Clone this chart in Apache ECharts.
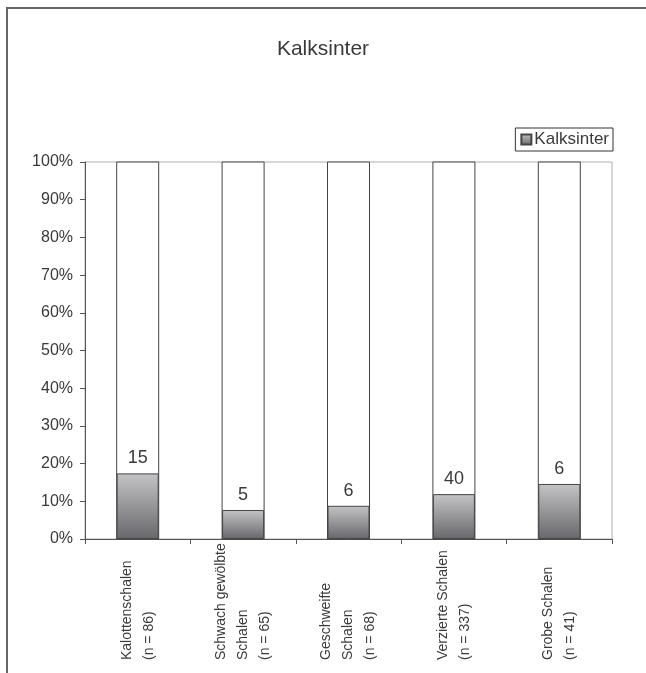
<!DOCTYPE html>
<html>
<head>
<meta charset="utf-8">
<script src="https://cdn.jsdelivr.net/npm/echarts@6/dist/echarts.min.js"></script>
<style>
  html, body { margin: 0; padding: 0; background: #fff; }
  #wrap { position: relative; width: 646px; height: 673px; }
  #chart { width: 646px; height: 673px; }
  #frame {
    position: absolute; left: 6px; top: 7px; width: 640px; height: 666px;
    border-left: 2px solid #666; border-top: 2px solid #666;
    pointer-events: none; box-sizing: border-box;
  }
</style>
</head>
<body>
<div id="wrap">
  <div id="chart"></div>
  <div id="frame"></div>
</div>
<script>
// categories (x axis labels)
const categories = [
  'Kalottenschalen\n(n = 86)',
  'Schwach gewölbte\nSchalen\n(n = 65)',
  'Geschweifte\nSchalen\n(n = 68)',
  'Verzierte Schalen\n(n = 337)',
  'Grobe Schalen\n(n = 41)'
];
// share with Kalksinter, in percent
const kalksinterPct = [17.4, 7.7, 8.8, 11.9, 14.6];
// counts shown above the bars
const kalksinterCount = [15, 5, 6, 40, 6];

const font = 'Liberation Sans, Arial, sans-serif';
const textColor = '#3a3a3a';

const chart = echarts.init(document.getElementById('chart'));

chart.setOption({
  animation: false,
  backgroundColor: '#fff',
  textStyle: { fontFamily: font, color: textColor },
  title: {
    text: 'Kalksinter',
    left: 'center',
    top: 34,
    textStyle: { fontFamily: font, fontSize: 21, fontWeight: 'normal', color: textColor }
  },
  legend: {
    data: [{ name: 'Kalksinter', icon: 'rect' }],
    right: 33,
    top: 128,
    itemWidth: 10,
    itemHeight: 10,
    itemGap: 4,
    padding: [3, 4, 3, 5],
    borderColor: '#333',
    borderWidth: 1,
    textStyle: { fontFamily: font, fontSize: 17, color: textColor, padding: [0, 0, 0, -2] }
  },
  grid: {
    left: 85,
    right: 34,
    top: 162,
    bottom: 134,
    show: true,
    borderColor: '#b0b0b0',
    borderWidth: 1,
    backgroundColor: 'transparent'
  },
  xAxis: {
    type: 'category',
    data: categories,
    axisLine: { lineStyle: { color: '#555', width: 1 } },
    axisTick: { show: true, length: 5, lineStyle: { color: '#555' } },
    axisLabel: {
      interval: 0,
      rotate: 90,
      align: 'left',
      verticalAlign: 'middle',
      margin: 121,
      lineHeight: 22,
      fontFamily: font,
      fontSize: 14,
      color: textColor
    }
  },
  yAxis: {
    type: 'value',
    min: 0,
    max: 100,
    interval: 10,
    splitLine: { show: false },
    axisLine: { show: true, lineStyle: { color: '#555', width: 1 } },
    axisTick: { show: true, length: 5, lineStyle: { color: '#555' } },
    axisLabel: {
      formatter: '{value}%',
      margin: 12,
      fontFamily: font,
      fontSize: 16,
      color: textColor
    }
  },
  series: [{
    name: 'Kalksinter',
    type: 'bar',
    data: kalksinterPct,
    barWidth: 42,
    showBackground: true,
    backgroundStyle: { color: '#fff', borderColor: '#444', borderWidth: 1 },
    itemStyle: {
      color: new echarts.graphic.LinearGradient(0, 0, 0, 1, [
        { offset: 0, color: '#c4c4c6' },
        { offset: 1, color: '#68686c' }
      ]),
      borderColor: '#444',
      borderWidth: 1
    },
    label: {
      show: true,
      position: 'top',
      distance: 6,
      formatter: p => kalksinterCount[p.dataIndex],
      fontFamily: font,
      fontSize: 18,
      color: textColor
    }
  }]
});
</script>
</body>
</html>
